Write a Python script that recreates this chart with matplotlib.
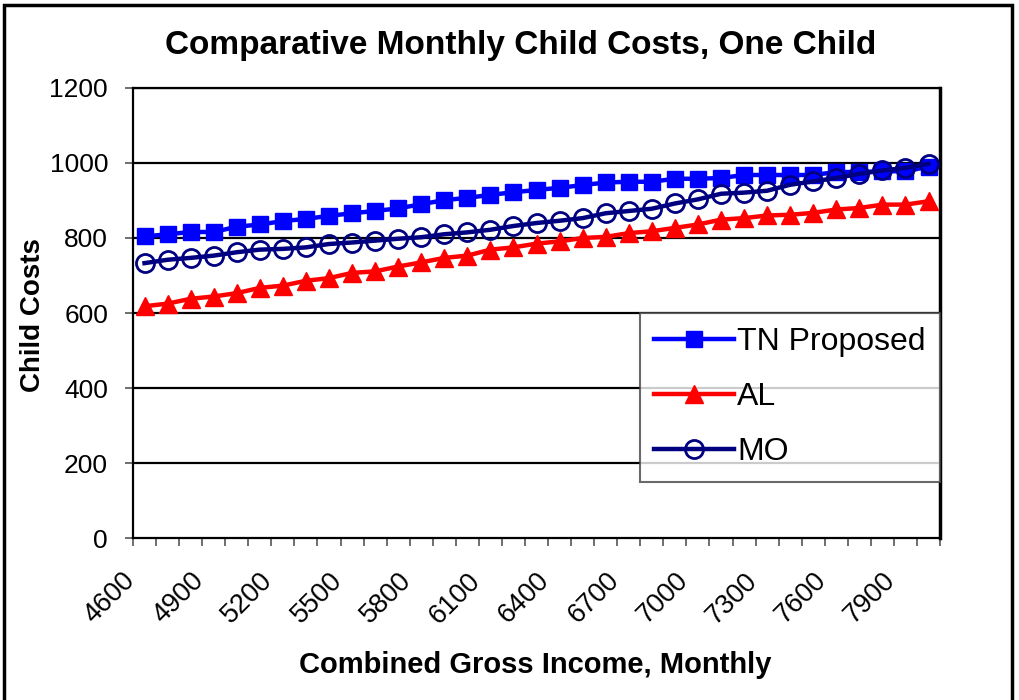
import numpy as np
import matplotlib
matplotlib.use("Agg")
from matplotlib import pyplot as plt
from matplotlib.patches import Rectangle
import matplotlib.transforms as mtransforms

plt.rcParams['font.family'] = ['Liberation Sans', 'DejaVu Sans']

# Ingreso bruto combinado mensual (categorías cada 100)
income = list(range(4600, 8001, 100))
tick_labels = [str(v) for v in income[::3]]

tn_proposed = [804, 810, 816, 816, 830, 836, 845, 851, 859, 866, 872, 879, 890, 901, 907, 915, 922, 928,
               934, 941, 948, 950, 950, 958, 958, 960, 968, 968, 968, 968, 976, 976, 978, 978, 990]
al = [618, 625, 638, 644, 653, 667, 673, 686, 693, 707, 711, 724, 735, 747, 753, 769, 775, 785,
      791, 800, 803, 813, 818, 827, 836, 849, 853, 860, 862, 867, 876, 880, 889, 889, 898]
mo = [733, 742, 747, 753, 762, 769, 771, 775, 784, 788, 793, 798, 802, 810, 815, 822, 832, 840,
      846, 853, 866, 872, 878, 892, 903, 918, 921, 926, 942, 951, 960, 971, 980, 987, 998]

x = np.arange(len(income))

fig = plt.figure(figsize=(10.2, 7.0), dpi=100)
ax = fig.add_axes([0.1304, 0.2314, 0.7912, 0.6429])

# Líneas de cuadrícula horizontales
for yv in range(200, 1201, 200):
    ax.axhline(yv, color='black', lw=1.6, zorder=1)

ax.plot(x, tn_proposed, color='#0000FF', lw=3.2, marker='s', ms=11, mfc='#0000FF', mec='#0000FF',
        label='TN Proposed', zorder=3)
ax.plot(x, al, color='#FF0000', lw=3.2, marker='^', ms=13, mfc='#FF0000', mec='#FF0000',
        label='AL', zorder=3)
ax.plot(x, mo, color='#000080', lw=3.2, marker='o', ms=13, mfc='none', mec='#000080', mew=2,
        label='MO', zorder=4)

ax.set_xlim(-0.5, len(income) - 0.5)
ax.set_ylim(0, 1200)
ax.set_yticks(range(0, 1201, 200))
ax.tick_params(axis='y', direction='out', length=6, width=1.2, color='#555555', labelsize=19, pad=12)

# Marcas del eje x entre categorías, etiquetas cada 3 categorías
ax.set_xticks(np.arange(-0.5, len(income), 1), minor=True)
ax.set_xticks(x[::3])
ax.set_xticklabels([])
ax.tick_params(axis='x', which='major', length=0)
ax.tick_params(axis='x', which='minor', direction='out', length=6, width=1.2, color='#555555')

offset = mtransforms.ScaledTranslation(-10 / 72, -28 / 72, fig.dpi_scale_trans)
for pos, lab in zip(x[::3], tick_labels):
    ax.text(pos, 0, lab, rotation=45, rotation_mode='anchor', ha='right', va='center',
            fontsize=19.5, transform=ax.get_xaxis_transform() + offset)

for side in ['left', 'bottom', 'top']:
    ax.spines[side].set_linewidth(1.6)
ax.spines['right'].set_linewidth(2.5)

leg = ax.legend(loc='upper right', bbox_to_anchor=(1.0, 0.5), borderaxespad=0, fontsize=23,
                frameon=True, fancybox=False, edgecolor='#444444', handlelength=2.5,
                handletextpad=0.1, labelspacing=0.78, borderpad=0.45, markerscale=1.0)
leg.get_frame().set_linewidth(1.5)
leg.set_zorder(5)

fig.text(0.51, 0.935, 'Comparative Monthly Child Costs, One Child', ha='center', va='center',
         fontsize=24, fontweight='bold')
fig.text(0.525, 0.05, 'Combined Gross Income, Monthly', ha='center', va='center',
         fontsize=21, fontweight='bold')
fig.text(0.032, 0.55, 'Child Costs', rotation=90, ha='center', va='center',
         fontsize=20, fontweight='bold')

# Marco exterior del gráfico
fig.patches.append(Rectangle((0.004, -0.01), 0.988, 1.003, transform=fig.transFigure,
                             fill=False, edgecolor='black', lw=2.5))

fig.savefig('out.png', dpi=100)
